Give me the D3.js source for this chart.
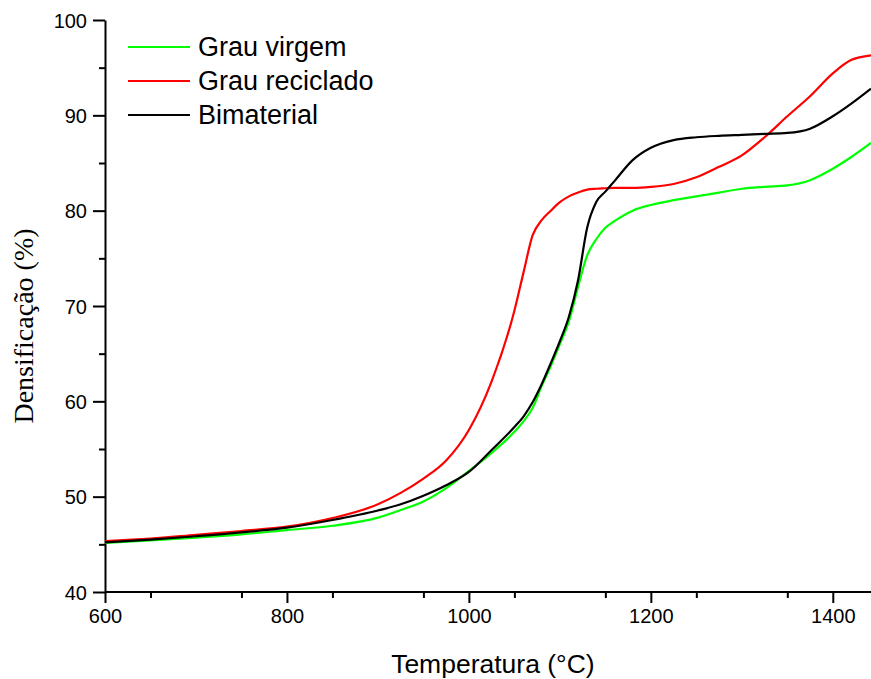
<!DOCTYPE html>
<html>
<head>
<meta charset="utf-8">
<script src="https://cdn.jsdelivr.net/npm/d3@7"></script>
<style>
  html, body { margin: 0; padding: 0; background: #fff; }
  svg { display: block; }
  .axis path, .axis line { stroke: #000; stroke-width: 2px; }
  .axis text { font-family: "Liberation Sans", Arial, sans-serif; font-size: 20px; fill: #000; }
</style>
</head>
<body>
<div id="chart"></div>
<script>
// temperatures (°C) shared by the three curves
const temperatura = [600, 650, 700, 750, 800, 850, 900, 925, 950, 975, 1000, 1025, 1050, 1060, 1070, 1080,
  1090, 1100, 1110, 1120, 1130, 1140, 1150, 1160, 1180, 1200, 1225, 1250, 1275, 1300, 1325, 1350, 1375,
  1400, 1420, 1442];

const grauVirgem = [45.15, 45.4, 45.7, 46.05, 46.5, 46.95, 47.8, 48.6, 49.5, 50.9, 52.7, 54.6, 56.8, 57.9,
  59.3, 61.6, 63.7, 66.0, 68.4, 72.0, 75.3, 77.0, 78.2, 78.9, 80.0, 80.6, 81.1, 81.5, 81.9, 82.3, 82.5,
  82.65, 83.2, 84.4, 85.6, 87.1];

const grauReciclado = [45.35, 45.6, 46.0, 46.4, 46.85, 47.75, 49.2, 50.4, 51.9, 53.8, 57.0, 62.1, 69.5,
  73.5, 77.4, 79.0, 80.0, 80.9, 81.5, 81.9, 82.2, 82.3, 82.35, 82.4, 82.4, 82.5, 82.8, 83.5, 84.6, 85.8,
  87.7, 89.9, 92.0, 94.4, 95.8, 96.3];

const bimaterial = [45.2, 45.5, 45.85, 46.25, 46.75, 47.55, 48.55, 49.2, 50.1, 51.2, 52.6, 54.9, 57.3,
  58.4, 59.9, 61.8, 64.0, 66.3, 68.9, 72.7, 78.2, 80.9, 82.0, 83.1, 85.3, 86.6, 87.4, 87.7, 87.85, 87.95,
  88.05, 88.15, 88.6, 89.9, 91.2, 92.8];

const seriesNames = ['Grau virgem', 'Grau reciclado', 'Bimaterial'];
const seriesColors = ['#00ff00', '#ff0000', '#000000'];
const xMajorTicks = [600, 800, 1000, 1200, 1400];
const yMajorTicks = [40, 50, 60, 70, 80, 90, 100];

const width = 871, height = 679;
const margin = { left: 105, right: 0, top: 20, bottom: 87 };

const svg = d3.select('#chart').append('svg')
  .attr('width', width)
  .attr('height', height);

const x = d3.scaleLinear().domain([600, 1442]).range([margin.left, width - margin.right]);
const y = d3.scaleLinear().domain([40, 100]).range([height - margin.bottom, margin.top]);

// minor ticks first (no labels)
svg.append('g')
  .attr('class', 'axis')
  .attr('transform', `translate(0,${y(40)})`)
  .call(d3.axisBottom(x).tickValues(d3.range(650, 1442, 100)).tickSize(6).tickFormat(''))
  .call(g => g.select('.domain').remove());

svg.append('g')
  .attr('class', 'axis')
  .attr('transform', `translate(${x(600)},0)`)
  .call(d3.axisLeft(y).tickValues(d3.range(45, 100, 10)).tickSize(6).tickFormat(''))
  .call(g => g.select('.domain').remove());

// major axes
svg.append('g')
  .attr('class', 'axis')
  .attr('transform', `translate(0,${y(40)})`)
  .call(d3.axisBottom(x).tickValues(xMajorTicks).tickFormat(d3.format('d'))
    .tickSize(11).tickSizeOuter(0).tickPadding(6))
  .call(g => g.select('.domain').attr('d', `M${x(600)},0H${width}`));

svg.append('g')
  .attr('class', 'axis')
  .attr('transform', `translate(${x(600)},0)`)
  .call(d3.axisLeft(y).tickValues(yMajorTicks).tickFormat(d3.format('d'))
    .tickSize(12).tickSizeOuter(0).tickPadding(6))
  .call(g => g.selectAll('.tick text').attr('dy', '0.36em'));

// curves
const series = [grauVirgem, grauReciclado, bimaterial];
const line = d3.line()
  .x((d, i) => x(temperatura[i]))
  .y(d => y(d))
  .curve(d3.curveMonotoneX);

const plot = svg.append('g');
plot.selectAll('path')
  .data(series)
  .join('path')
  .attr('d', line)
  .attr('fill', 'none')
  .attr('stroke', (d, i) => seriesColors[i])
  .attr('stroke-width', 2.2);

// legend
const legend = svg.append('g').attr('transform', 'translate(128,47)');
const item = legend.selectAll('g')
  .data(seriesNames)
  .join('g')
  .attr('transform', (d, i) => `translate(0,${i * 34})`);
item.append('line')
  .attr('x1', 0).attr('x2', 62)
  .attr('stroke', (d, i) => seriesColors[i])
  .attr('stroke-width', 2);
item.append('text')
  .attr('x', 70)
  .attr('y', 9)
  .style('font-family', '"Liberation Sans", Arial, sans-serif')
  .style('font-size', '27px')
  .text(d => d);

// axis titles
svg.append('text')
  .attr('x', x(1000) + 24)
  .attr('y', 673)
  .attr('text-anchor', 'middle')
  .style('font-family', '"Liberation Sans", Arial, sans-serif')
  .style('font-size', '26.5px')
  .text('Temperatura (\u00B0C)');

svg.append('text')
  .attr('transform', `translate(33,${y(70) + 20}) rotate(-90)`)
  .attr('text-anchor', 'middle')
  .style('font-family', '"Liberation Serif", "Times New Roman", serif')
  .style('font-size', '28px')
  .text('Densificação (%)');
</script>
</body>
</html>
